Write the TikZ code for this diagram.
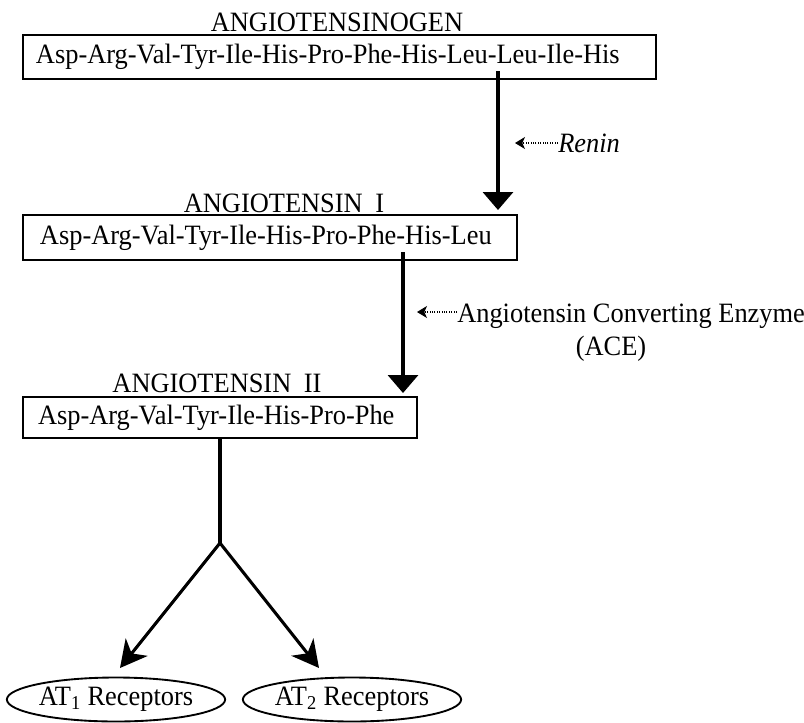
\documentclass[tikz,border=0pt]{standalone}
\usepackage{fontspec}
\setmainfont{Liberation Serif}[FakeStretch=0.943]
\usetikzlibrary{arrows.meta,shapes.geometric}
\newdimen\pxu
\pxu=0.75pt

\begin{document}
\begin{tikzpicture}[x=0.75pt,y=-0.75pt,
  every node/.style={font=\fontsize{21}{24}\selectfont},
  title/.style={anchor=base, inner sep=0pt},
  peptide/.style={draw, line width=1.2pt, anchor=west, inner ysep=0pt, outer sep=0pt},
  cleave/.style={line width=2.6pt, -{Triangle[length=13.5pt,width=22.5pt]}},
  branch/.style={line width=2.3pt},
  bhead/.tip={Stealth[length=20pt,width=21pt,inset=6pt]},
  enzyme/.style={densely dotted, line width=0.8pt, -{Stealth[length=7.5pt,width=9pt,inset=2pt]}},
  receptor/.style={draw, ellipse, line width=1.4pt, inner sep=0pt, outer sep=0pt,
    minimum width=210\pxu, minimum height=44\pxu}
]
\useasboundingbox (0,0) rectangle (804,722);

% peptide chains
\node[title] (t1) at (337,31) {ANGIOTENSINOGEN};
\node[peptide, inner xsep=13\pxu, minimum height=44\pxu] (b1) at (23,57)
  {\makebox[607\pxu][l]{Asp-Arg-Val-Tyr-Ile-His-Pro-Phe-His-Leu-Leu-Ile-His}};

\node[title] (t2) at (284,212) {ANGIOTENSIN\hspace{0.45em}I};
\node[peptide, inner xsep=17\pxu, minimum height=45\pxu] (b2) at (23,237.5)
  {\makebox[460\pxu][l]{Asp-Arg-Val-Tyr-Ile-His-Pro-Phe-His-Leu}};

\node[title] (t3) at (217,392) {ANGIOTENSIN\hspace{0.45em}II};
\node[peptide, inner xsep=15\pxu, minimum height=41\pxu] (b3) at (23,417.5)
  {\makebox[364\pxu][l]{Asp-Arg-Val-Tyr-Ile-His-Pro-Phe}};

% cleavage sites and conversion arrows
\coordinate (cut1) at (498,71);
\coordinate (cut2) at (403,252);
\draw[cleave, shorten >=5\pxu] (cut1) -- (cut1 |- b2.north);
\draw[cleave, shorten >=4\pxu] (cut2) -- (cut2 |- b3.north);

% enzymes
\node[anchor=base west, inner sep=0pt, font=\fontsize{21}{24}\selectfont\itshape] (renin) at (558,152) {Renin};
\coordinate (rtip) at (515,143);
\draw[enzyme] (renin.west |- rtip) -- (rtip);

\node[anchor=base west, inner sep=0pt] (ace) at (457,322) {Angiotensin Converting Enzyme};
\node[title] (acex) at (611,355) {(ACE)};
\coordinate (atip) at (417,312);
\draw[enzyme] (ace.west |- atip) -- (atip);

% receptors
\node[receptor, minimum width=212\pxu] (at1) at (116,699.5) {AT\textsubscript{1} Receptors};
\node[receptor, minimum width=205\pxu] (at2) at (352,699.5) {AT\textsubscript{2} Receptors};

\coordinate (fork) at (220,543);
\coordinate (tip1) at (120,668);
\coordinate (tip2) at (319,668);
\draw[branch] (b3.south) -- (fork);
\draw[branch, bhead-bhead] (tip1) -- (fork) -- (tip2);
\end{tikzpicture}
\end{document}
